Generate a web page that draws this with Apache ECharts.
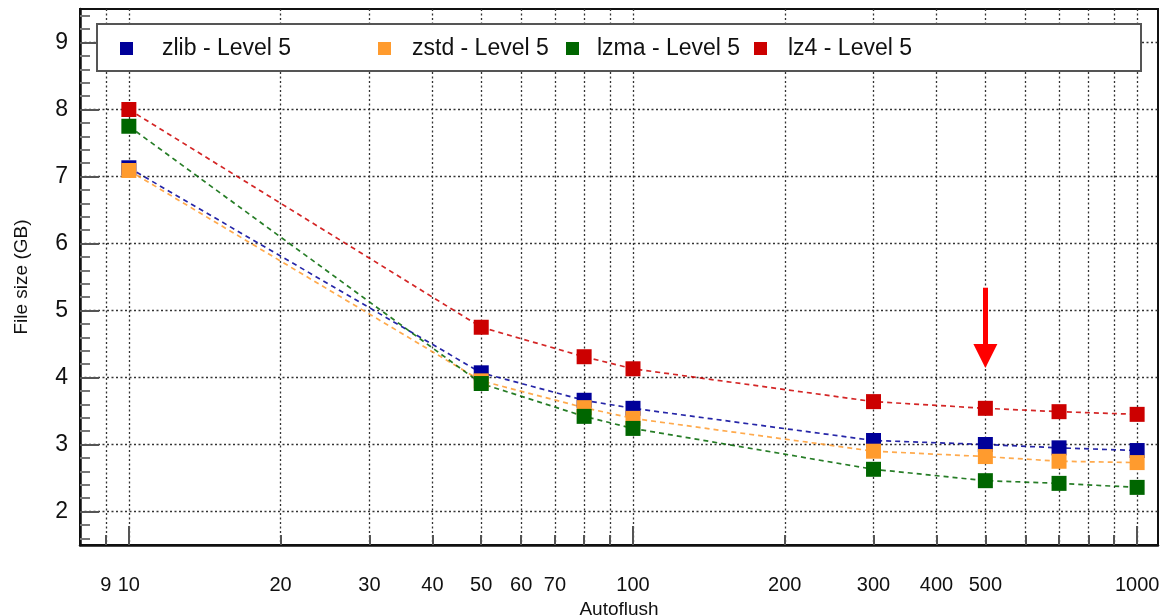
<!DOCTYPE html>
<html>
<head>
<meta charset="utf-8">
<script src="https://cdn.jsdelivr.net/npm/echarts@6/dist/echarts.min.js"></script>
<style>
  html, body { margin: 0; padding: 0; background: #fff; }
  #chart { width: 1166px; height: 616px; }
</style>
</head>
<body>
<div id="chart"></div>
<script>
/* Autoflush values on the x axis */
const autoflush = [10, 50, 80, 100, 300, 500, 700, 1000];

/* File size (GB) per compression algorithm */
const zlib = [7.13, 4.07, 3.66, 3.54, 3.06, 3.0, 2.95, 2.91];
const zstd = [7.09, 3.95, 3.55, 3.39, 2.9, 2.82, 2.75, 2.73];
const lzma = [7.75, 3.91, 3.42, 3.24, 2.63, 2.46, 2.42, 2.36];
const lz4 = [8.0, 4.75, 4.31, 4.13, 3.64, 3.54, 3.49, 3.45];

/* Tick labels and tick positions */
const xLabels = [9, 10, 20, 30, 40, 50, 60, 70, 100, 200, 300, 400, 500, 1000];
const xTicks = [9, 10, 20, 30, 40, 50, 60, 70, 80, 90, 100, 200, 300, 400, 500, 600, 700, 800, 900, 1000];
const xMajorTicks = [10, 100, 1000];
const yLabels = [2, 3, 4, 5, 6, 7, 8, 9];
const yMinorTicks = [
  1.6, 1.8, 2.2, 2.4, 2.6, 2.8, 3.2, 3.4, 3.6, 3.8, 4.2, 4.4, 4.6, 4.8,
  5.2, 5.4, 5.6, 5.8, 6.2, 6.4, 6.6, 6.8, 7.2, 7.4, 7.6, 7.8, 8.2, 8.4,
  8.6, 8.8, 9.2, 9.4,
];

/* Arrow annotation pointing at autoflush = 500 */
const arrowFrom = [500, 5.34];
const arrowTo = [500, 4.32];

const FONT = "'Liberation Sans', Arial, Helvetica, sans-serif";
const COLORS = { zlib: "#000099", zstd: "#ff9b2e", lzma: "#006600", lz4: "#cc0000" };
const GRID_LINE = { show: true, lineStyle: { color: "#333", width: 1.3, type: [2, 2.5] } };

function pairs(values) {
  return autoflush.map(function (x, i) { return [x, values[i]]; });
}

function makeSeries(name, values, color) {
  return {
    name: name,
    type: "line",
    data: pairs(values),
    symbol: "rect",
    symbolSize: 15,
    itemStyle: { color: color },
    lineStyle: { color: color, width: 1.7, type: [5, 4], opacity: 0.85 },
    animation: false,
  };
}

function legendAt(name, left, pad) {
  return {
    data: [name],
    left: left,
    top: 32,
    z: 10,
    icon: "rect",
    itemWidth: 13,
    itemHeight: 13,
    textStyle: { fontFamily: FONT, fontSize: 23, color: "#111", padding: [0, 0, 0, pad] },
    selectedMode: false,
  };
}

const chart = echarts.init(document.getElementById("chart"), null, { renderer: "canvas" });

const lz4Series = makeSeries("lz4 - Level 5", lz4, COLORS.lz4);
lz4Series.markLine = {
  silent: true,
  symbol: ["none", "triangle"],
  symbolSize: [24, 24],
  label: { show: false },
  lineStyle: { color: "#ff0000", width: 5, type: "solid", opacity: 1 },
  data: [[{ coord: arrowFrom }, { coord: arrowTo }]],
};

chart.setOption({
  backgroundColor: "#fff",
  animation: false,
  textStyle: { fontFamily: FONT },
  grid: {
    left: 80, right: 8, top: 9, bottom: 71,
    outerBoundsMode: "none",
    containLabel: false,
    show: true, borderColor: "#111", borderWidth: 2, backgroundColor: "transparent",
  },
  legend: [
    legendAt("zlib - Level 5", 115, 24),
    legendAt("zstd - Level 5", 373, 16),
    legendAt("lzma - Level 5", 561, 13),
    legendAt("lz4 - Level 5", 749, 16),
  ],
  graphic: [
    {
      type: "rect",
      left: 96, top: 23,
      shape: { width: 1044, height: 47 },
      style: { fill: "#fff", stroke: "#555", lineWidth: 2 },
      z: 3,
    },
  ],
  xAxis: [
    {
      type: "log",
      logBase: 10,
      min: 8,
      max: 1100,
      name: "Autoflush",
      nameLocation: "middle",
      nameGap: 53,
      nameTextStyle: { fontFamily: FONT, fontSize: 19, color: "#111" },
      axisLine: { show: true, lineStyle: { color: "#111", width: 2.5 } },
      axisTick: { show: true, inside: true, length: 10, customValues: xTicks, lineStyle: { color: "#555", width: 2 } },
      axisLabel: {
        customValues: xLabels,
        formatter: function (v) { return String(v); },
        fontFamily: FONT, fontSize: 20, color: "#111", margin: 30,
      },
      splitLine: GRID_LINE,
    },
    {
      type: "log",
      logBase: 10,
      min: 8,
      max: 1100,
      position: "bottom",
      axisLine: { show: false },
      axisTick: { show: true, inside: true, length: 19, customValues: xMajorTicks, lineStyle: { color: "#555", width: 2 } },
      axisLabel: { show: false },
      splitLine: { show: false },
    },
  ],
  yAxis: [
    {
      type: "value",
      min: 1.5,
      max: 9.5,
      interval: 0.5,
      name: "File size (GB)",
      nameLocation: "middle",
      nameGap: 49,
      nameTextStyle: { fontFamily: FONT, fontSize: 19, color: "#111" },
      axisLine: { show: true, lineStyle: { color: "#111", width: 2.5 } },
      axisTick: { show: true, inside: true, length: 19, customValues: yLabels, lineStyle: { color: "#555", width: 2 } },
      axisLabel: { customValues: yLabels, fontFamily: FONT, fontSize: 23, color: "#111", margin: 12 },
      splitLine: GRID_LINE,
    },
    {
      type: "value",
      min: 1.5,
      max: 9.5,
      interval: 0.5,
      position: "left",
      axisLine: { show: false },
      axisTick: { show: true, inside: true, length: 10, customValues: yMinorTicks, lineStyle: { color: "#777", width: 2 } },
      axisLabel: { show: false },
      splitLine: { show: false },
    },
  ],
  series: [
    makeSeries("zlib - Level 5", zlib, COLORS.zlib),
    makeSeries("zstd - Level 5", zstd, COLORS.zstd),
    makeSeries("lzma - Level 5", lzma, COLORS.lzma),
    lz4Series,
  ],
});
</script>
</body>
</html>
